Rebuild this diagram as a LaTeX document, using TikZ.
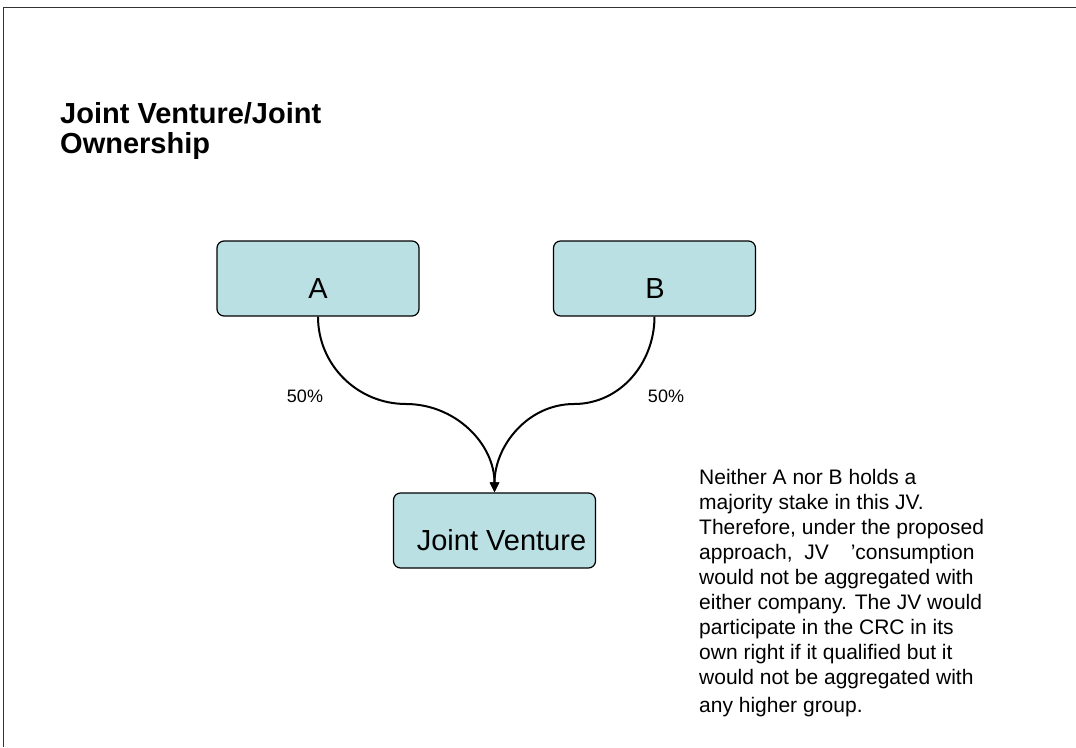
\documentclass[tikz,border=0pt]{standalone}
\usepackage{fontspec}
\setmainfont{Liberation Sans}
\usetikzlibrary{arrows.meta}
\definecolor{boxfill}{HTML}{BBE0E3}
\begin{document}
\begin{tikzpicture}[x=1pt,y=-1pt,
  entity/.style={draw=black, line width=1.2pt, fill=boxfill, rounded corners=7pt,
    minimum width=202pt, minimum height=75pt, inner sep=0pt},
  entitytext/.style={anchor=base, inner sep=0pt, font=\fontsize{29}{34}\selectfont},
  share/.style={anchor=base, inner sep=0pt, font=\fontsize{18}{21}\selectfont},
  link/.style={line width=2pt, -{Triangle[length=10pt,width=9pt]}}
]
\useasboundingbox (0,0) rectangle (1076,747);
% page frame
\draw[line width=1pt, black!80] (1076,7) -- (3,7) -- (3,747);

% title
\node[anchor=north west, inner sep=0pt, align=left,
      font=\bfseries\fontsize{29}{30}\selectfont] (title) at (60,102)
  {Joint Venture/Joint\\Ownership};

% owners and the joint venture
\node[entity] (A) at (318,278.5) {};
\node[entity] (B) at (654.5,278.5) {};
\node[entity] (JV) at (494.5,530.5) {};
\node[entitytext] (Atext) at (318,298) {A};
\node[entitytext] (Btext) at (655,298) {B};
\node[entitytext] (JVtext) at (501.5,550) {Joint Venture};

% ownership links
\coordinate (ma) at (406,404);
\coordinate (mb) at (574,404);
\draw[link] (A.south) to[out=-90,in=180] (ma) to[out=0,in=90] (JV.north);
\draw[link] (B.south) to[out=-90,in=0] (mb) to[out=180,in=90] (JV.north);

\node[share] (pa) at (305,402) {50\%};
\node[share] (pb) at (666,402) {50\%};

% explanatory note
\node[anchor=north west, inner sep=0pt, align=left,
      font=\fontsize{21}{25}\selectfont] (note) at (699,469)
  {Neither A nor B holds a\\
   majority stake in this JV.\\
   Therefore, under the proposed\\
   approach,~~JV\hspace{22pt}’consumption\\
   would not be aggregated with\\
   either company. The JV would\\
   participate in the CRC in its\\
   own right if it qualified but it\\
   would not be aggregated with\\[3pt]
   any higher group.};
\end{tikzpicture}
\end{document}
